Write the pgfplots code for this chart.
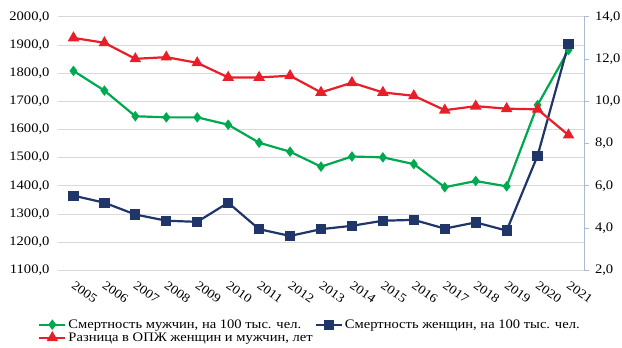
\documentclass[border=0pt]{standalone}
\usepackage{pgfplots}
\pgfplotsset{compat=1.18}
\usepackage{fontspec}
\setmainfont{Liberation Serif}[FakeStretch=1.12]
\definecolor{cgreen}{RGB}{0,168,80}
\definecolor{cblue}{RGB}{32,54,105}
\definecolor{cred}{RGB}{232,30,40}
\definecolor{cgrid}{RGB}{217,217,217}
\definecolor{caxis}{RGB}{170,186,210}
\pgfplotsset{
  common/.style={
    scale only axis, width=526bp, height=253.5bp,
    xmin=-0.5, xmax=16.5,
    at={(58bp,77.7bp)}, anchor=south west,
    /pgf/number format/assume math mode=true,
    /pgf/number format/.cd, fixed, fixed zerofill, precision=1, use comma, 1000 sep={},
  },
}
\begin{document}
\fontsize{13bp}{15bp}\selectfont
\begin{tikzpicture}
\useasboundingbox (0,0) rectangle (622bp,348bp);
\begin{axis}[common,
  ymin=1100, ymax=2000, ytick={1100,1200,...,2000},
  ymajorgrids, grid style={cgrid, line width=0.9bp},
  axis line style={draw=none},
  major tick length=0pt,
  xtick={0,...,16},
  xticklabels={2005,2006,2007,2008,2009,2010,2011,2012,2013,2014,2015,2016,2017,2018,2019,2020,2021},
  x tick label style={anchor=north west, inner sep=0pt, xshift=2bp, yshift=-10bp, rotate=-35, font=\fontsize{12.5bp}{14bp}\selectfont},
  y tick label style={font=\fontsize{13bp}{15bp}\selectfont, xshift=-4bp},
]
\addplot[cgreen, line width=2.2bp, mark=diamond*, mark size=3.5bp] coordinates {
(0,1808)(1,1738)(2,1647)(3,1643)(4,1643)(5,1617)(6,1553)(7,1521)(8,1468)(9,1504)(10,1501)(11,1477)(12,1395)(13,1417)(14,1398)(15,1687)(16,1882)};
\addplot[cblue, line width=2.2bp, mark=square*, mark size=4bp] coordinates {
(0,1365)(1,1340)(2,1298)(3,1276)(4,1272)(5,1340)(6,1246)(7,1222)(8,1246)(9,1258)(10,1276)(11,1279)(12,1248)(13,1270)(14,1241)(15,1507)(16,1904)};
\end{axis}
\begin{axis}[common,
  ymin=2, ymax=14, ytick={2,4,...,14},
  axis x line=none,
  axis y line*=right,
  y axis line style={caxis, line width=1bp, -},
  ytick style={caxis, line width=1bp},
  tick align=outside, major tick length=4.5bp,
  y tick label style={font=\fontsize{13bp}{15bp}\selectfont, xshift=2bp},
  legend columns=2,
  legend style={at={(0.479,-0.185)}, anchor=north, draw=none, fill=none,
    font=\fontsize{13bp}{15bp}\selectfont,
    inner sep=0pt, row sep=-1.5bp,
    /tikz/every even column/.append style={column sep=0bp}},
  legend cell align=left,
  legend image code/.code={\draw[mark repeat=2, mark phase=2, #1] plot coordinates {(0bp,0bp)(13bp,0bp)(26bp,0bp)};},
]
\addlegendimage{cgreen, line width=2.2bp, mark=diamond*, mark size=3.5bp}
\addlegendentry{Смертность мужчин, на 100 тыс. чел.}
\addlegendimage{cblue, line width=2.2bp, mark=square*, mark size=4bp}
\addlegendentry{Смертность женщин, на 100 тыс. чел.}
\addplot[cred, line width=2.2bp, mark=triangle*, mark size=4.5bp] coordinates {
(0,13.0)(1,12.77)(2,12.01)(3,12.09)(4,11.82)(5,11.13)(6,11.13)(7,11.21)(8,10.42)(9,10.88)(10,10.42)(11,10.26)(12,9.58)(13,9.77)(14,9.65)(15,9.62)(16,8.40)};
\addlegendentry{Разница в ОПЖ женщин и мужчин, лет}
\end{axis}
\end{tikzpicture}
\end{document}
